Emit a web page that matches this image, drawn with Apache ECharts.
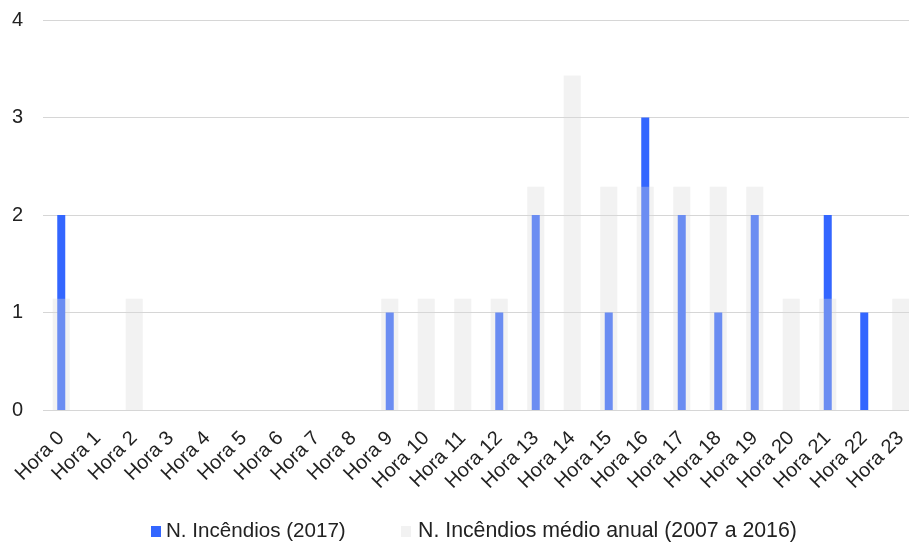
<!DOCTYPE html>
<html>
<head>
<meta charset="utf-8">
<script src="https://cdn.jsdelivr.net/npm/echarts@6/dist/echarts.min.js"></script>
<style>
  html, body { margin: 0; padding: 0; background: #fff; overflow: hidden; }
  /* the drawing surface is a little wider than the window; the last bar is cut at the edge */
  #chart { width: 919px; height: 542px; }
</style>
</head>
<body>
<div id="chart"></div>
<script>
// Hours of the day
const hours = ['Hora 0','Hora 1','Hora 2','Hora 3','Hora 4','Hora 5','Hora 6','Hora 7','Hora 8','Hora 9','Hora 10','Hora 11',
  'Hora 12','Hora 13','Hora 14','Hora 15','Hora 16','Hora 17','Hora 18','Hora 19','Hora 20','Hora 21','Hora 22','Hora 23'];

// Number of fires in 2017, per hour
const fires2017 = [2, 0, 0, 0, 0, 0, 0, 0, 0, 1, 0, 0, 1, 2, 0, 1, 3, 2, 1, 2, 0, 2, 1, 0];

// Annual average number of fires 2007-2016, per hour
const firesAvg = [1.14, 0, 1.14, 0, 0, 0, 0, 0, 0, 1.14, 1.14, 1.14, 1.14, 2.29, 3.43, 2.29, 2.29, 2.29, 2.29, 2.29, 1.14, 1.14, 0, 1.14];

const seriesNames = ['N. Incêndios (2017)', 'N. Incêndios médio anual (2007 a 2016)'];

const font = 'Liberation Sans, Arial, sans-serif';
const legendBase = {
  top: 516,
  itemWidth: 10,
  itemHeight: 11,
  icon: 'rect',
  textStyle: { fontSize: 20.5, color: '#222', fontFamily: font }
};

const chart = echarts.init(document.getElementById('chart'));
chart.setOption({
  animation: false,
  textStyle: { fontFamily: font },
  grid: { left: 43, right: 0, top: 20, bottom: 132 },
  legend: [
    Object.assign({}, legendBase, {
      left: 146,
      textStyle: { fontSize: 20.6, color: '#222', fontFamily: font, padding: [0, 0, 0, 0] },
      data: [{ name: seriesNames[0], itemStyle: { color: '#3366ff' } }]
    }),
    Object.assign({}, legendBase, {
      left: 396,
      itemGap: 0,
      textStyle: { fontSize: 21.3, color: '#222', fontFamily: font, padding: [0, 0, 0, 2] },
      data: [{ name: seriesNames[1], itemStyle: { color: '#f2f2f2' } }]
    })
  ],
  xAxis: [
    {
      type: 'category',
      data: hours,
      axisLine: { show: false },
      axisTick: { show: false },
      axisLabel: { rotate: 45, fontSize: 20, color: '#222', margin: 25, interval: 0, fontFamily: font }
    },
    {
      type: 'category',
      data: hours,
      show: false
    }
  ],
  yAxis: {
    type: 'value',
    min: 0,
    max: 4,
    interval: 1,
    axisLabel: { fontSize: 20, color: '#222', margin: 20, fontFamily: font },
    splitLine: { lineStyle: { color: '#d6d6d6', width: 1 } }
  },
  series: [
    {
      name: seriesNames[0],
      type: 'bar',
      xAxisIndex: 0,
      data: fires2017,
      barWidth: 8,
      itemStyle: { color: '#3366ff' }
    },
    {
      name: seriesNames[1],
      type: 'bar',
      xAxisIndex: 1,
      data: firesAvg,
      barWidth: 17,
      itemStyle: { color: 'rgba(217,217,217,0.34)' }
    }
  ]
});
</script>
</body>
</html>
